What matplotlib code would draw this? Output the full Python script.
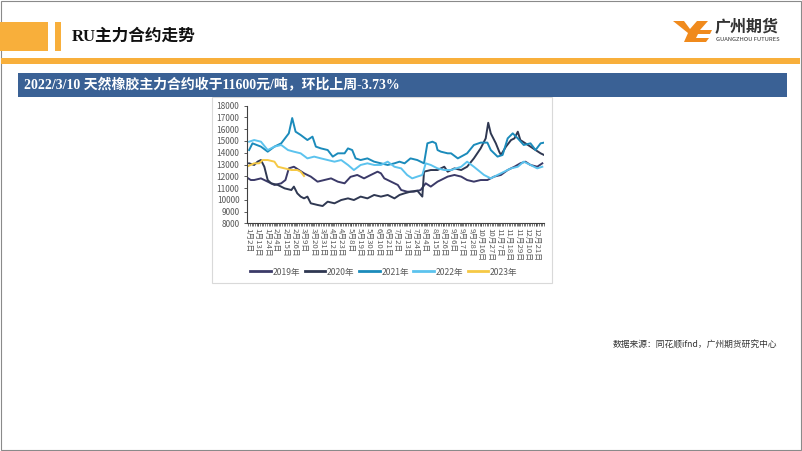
import matplotlib
matplotlib.use("Agg")
import matplotlib.pyplot as plt
from matplotlib.patches import Rectangle, Polygon

plt.rcParams['font.family'] = ['Noto Sans CJK SC', 'DejaVu Sans']

# ---------------- data ----------------
x_labels = ["1月2日", "1月13日", "1月24日", "2月4日", "2月15日", "2月26日", "3月9日",
            "3月20日", "3月31日", "4月12日", "4月23日", "5月8日", "5月19日", "5月30日",
            "6月10日", "6月21日", "7月2日", "7月13日", "7月24日", "8月4日", "8月15日",
            "8月26日", "9月6日", "9月17日", "9月28日", "10月16日", "10月27日", "11月7日",
            "11月18日", "11月29日", "12月10日", "12月21日"]
n_days = 351          # number of trading-day categories on the x axis
label_step = 11       # a label every 11 categories

idx_2019 = [0, 3, 7, 15, 23, 31, 39, 44, 48, 54, 60, 66, 74, 82, 90, 98, 106, 114, 121,
            129, 137, 145, 153, 157, 161, 169, 177, 181, 188, 196, 204, 210, 216, 224,
            228, 236, 244, 252, 259, 267, 275, 283, 291, 299, 307, 315, 322, 328, 334,
            342, 348]
val_2019 = [11820, 11680, 11680, 11820, 11540, 11260, 11400, 11680, 12670, 12810, 12530,
            12250, 11970, 11540, 11680, 11820, 11540, 11400, 11950, 12110, 11820, 12110,
            12390, 12250, 11820, 11540, 11260, 10830, 10690, 10690, 10830, 11400, 11120,
            11540, 11680, 11970, 12110, 11970, 11680, 11540, 11680, 11680, 11970, 12110,
            12530, 12810, 13100, 13240, 12960, 12810, 13100]

idx_2020 = [1, 7, 11, 15, 19, 23, 27, 35, 43, 51, 54, 58, 62, 66, 70, 74, 82, 88, 94,
            102, 110, 118, 125, 133, 141, 149, 157, 165, 173, 179, 185, 192, 200, 206,
            208, 216, 224, 232, 236, 244, 252, 259, 267, 275, 281, 284, 287, 293, 297,
            299, 305, 311, 315, 319, 322, 328, 334, 340, 346, 350]
val_2020 = [13100, 12960, 13240, 13380, 12810, 11680, 11400, 11260, 10970, 10830, 11120,
            10550, 10270, 10120, 10270, 9700, 9560, 9470, 9840, 9700, 9980, 10120, 9980,
            10270, 10120, 10410, 10270, 10410, 10120, 10410, 10550, 10690, 10780, 10270,
            12390, 12530, 12530, 12810, 12390, 12670, 12530, 12810, 13520, 14370, 15220,
            16550, 15650, 14800, 14090, 13810, 14520, 15080, 15220, 15790, 15080, 14800,
            14520, 14230, 13950, 13810]

idx_2021 = [1, 5, 15, 23, 31, 39, 48, 52, 56, 62, 70, 76, 80, 86, 94, 100, 106, 114,
            118, 123, 127, 133, 141, 149, 157, 165, 173, 179, 185, 192, 200, 208, 212,
            218, 222, 224, 228, 236, 240, 248, 259, 267, 275, 283, 287, 291, 295, 301,
            307, 313, 319, 326, 334, 340, 346, 350]
val_2021 = [14230, 14800, 14520, 14090, 14520, 14800, 15650, 16950, 15790, 15510, 15080,
            15370, 14520, 14370, 14230, 13670, 13950, 13950, 14370, 14230, 13520, 13380,
            13520, 13240, 13100, 12960, 13100, 13240, 13100, 13520, 13380, 13100, 14800,
            14940, 14800, 14230, 14090, 13950, 13950, 13520, 13950, 14660, 14860, 14860,
            14230, 13950, 13670, 13810, 15220, 15650, 15220, 14660, 14800, 14230, 14800,
            14860]

idx_2022 = [1, 7, 15, 23, 31, 39, 47, 54, 62, 70, 78, 86, 94, 102, 110, 118, 125, 133,
            141, 149, 157, 165, 173, 181, 188, 194, 200, 206, 210, 216, 224, 232, 240,
            252, 259, 267, 279, 287, 295, 303, 311, 319, 326, 334, 342, 348]
val_2022 = [14940, 15080, 14940, 14230, 14520, 14660, 14230, 14090, 13950, 13520, 13670,
            13520, 13380, 13240, 13380, 12960, 12530, 12960, 13100, 12960, 12960, 13240,
            12810, 12670, 12110, 11820, 11970, 12110, 13100, 12960, 12670, 12530, 12530,
            12810, 13240, 12810, 12110, 11820, 12110, 12390, 12670, 12810, 13240, 12960,
            12670, 12810]

idx_2023 = [0, 7, 13, 17, 23, 31, 35, 43, 51, 58, 62, 66]
val_2023 = [12870, 13100, 13100, 13380, 13380, 13240, 12810, 12670, 12530, 12530, 12390,
            12020]

series = [("2019年", idx_2019, val_2019, "#3b3a68"),
          ("2020年", idx_2020, val_2020, "#2f3852"),
          ("2021年", idx_2021, val_2021, "#1b8bbb"),
          ("2022年", idx_2022, val_2022, "#5cc3ee"),
          ("2023年", idx_2023, val_2023, "#f6c945")]

y_ticks = list(range(8000, 18001, 1000))

# ---------------- figure ----------------
W, H = 802, 451
fig = plt.figure(figsize=(W / 100, H / 100), dpi=100)

def fx(x):
    return x / W

def fy(y):
    return 1 - y / H

def rect(x0, y0, x1, y1, z=0, **kw):
    r = Rectangle((fx(x0), fy(y1)), fx(x1) - fx(x0), fy(y0) - fy(y1),
                  transform=fig.transFigure, zorder=z, **kw)
    fig.patches.append(r)

orange = "#f8af3b"
# slide border
rect(0.5, 0.5, 800.5, 450, facecolor="none", edgecolor="#8a8a8a", lw=0.8)
# header blocks
rect(0, 22, 48, 51, facecolor=orange, edgecolor="none")
rect(55, 22, 61, 51, facecolor=orange, edgecolor="none")
rect(1, 58, 800, 64, facecolor=orange, edgecolor="none")
fig.text(fx(72), fy(37), "RU主力合约走势", fontsize=12, fontweight="bold",
         family=["Liberation Serif", "Noto Sans CJK SC"], color="#111111",
         ha="left", va="center")

# logo
fig.patches.append(Polygon([(fx(673), fy(21)), (fx(684), fy(21)), (fx(690), fy(29)),
                            (fx(697), fy(21)), (fx(708), fy(21)), (fx(700), fy(30)),
                            (fx(712), fy(30)), (fx(710), fy(34)), (fx(698), fy(34)),
                            (fx(696), fy(38)), (fx(709), fy(38)), (fx(706), fy(42)),
                            (fx(684), fy(42)), (fx(688), fy(33))],
                           closed=True, transform=fig.transFigure, zorder=0,
                           facecolor="#f08a1c", edgecolor="none"))
fig.text(fx(715), fy(27), "广州期货", fontsize=11.5, fontweight="bold",
         color="#333333", ha="left", va="center")
fig.text(fx(715.5), fy(39.5), "GUANGZHOU FUTURES", fontsize=4.2, color="#333333",
         ha="left", va="center")

# banner
rect(18, 73, 787, 97, facecolor="#3a6195", edgecolor="none")
fig.text(fx(24), fy(85.5), "2022/3/10 天然橡胶主力合约收于11600元/吨，环比上周-3.73%",
         fontsize=10, fontweight="bold", color="white",
         family=["Liberation Serif", "Noto Sans CJK SC"], ha="left", va="center")

# chart panel
rect(212, 97, 552, 283, z=-1, facecolor="white", edgecolor="#d9d9d9", lw=0.8)

# source note
fig.text(fx(613), fy(345), "数据来源：同花顺ifnd，广州期货研究中心", fontsize=6.3,
         color="#333333", ha="left", va="center")

# ---------------- axes ----------------
ax = fig.add_axes([fx(247), fy(223.3), fx(544) - fx(247), fy(105.7) - fy(223.3)])
ax.set_zorder(3)
ax.patch.set_visible(False)
handles = []
for name, xs, ys, col in series:
    ln, = ax.plot(xs, ys, color=col, lw=1.4, label=name, solid_joinstyle="round")
    handles.append(ln)

ax.set_ylim(8000, 18000)
ax.set_xlim(-1.5, n_days - 1)
ax.set_yticks(y_ticks)
ax.set_yticklabels([str(v) for v in y_ticks])
ax.set_xticks([i * label_step for i in range(len(x_labels))])
ax.set_xticklabels(x_labels, rotation=-90, ha="center", va="top")
ax.set_xticks(list(range(0, n_days, 2)), minor=True)
for s in ["top", "right"]:
    ax.spines[s].set_visible(False)
for s in ["left", "bottom"]:
    ax.spines[s].set_color("#404040")
    ax.spines[s].set_linewidth(0.8)
ax.tick_params(axis="y", labelsize=6, colors="#404040", labelcolor="#595959",
               length=2.5, width=0.6, pad=3)
ax.tick_params(axis="x", which="both", labelsize=5.6, colors="#404040",
               labelcolor="#595959", length=2, width=0.5, pad=1.5)

leg = fig.legend(handles=handles, loc="center", bbox_to_anchor=(fx(384), fy(272)),
                 ncol=5, frameon=False, fontsize=6.2, handlelength=2.4,
                 handletextpad=0.2, columnspacing=0.5, labelcolor="#595959")
leg.set_zorder(4)
for h in leg.legend_handles:
    h.set_linewidth(2)

fig.savefig("out.png", dpi=100)
